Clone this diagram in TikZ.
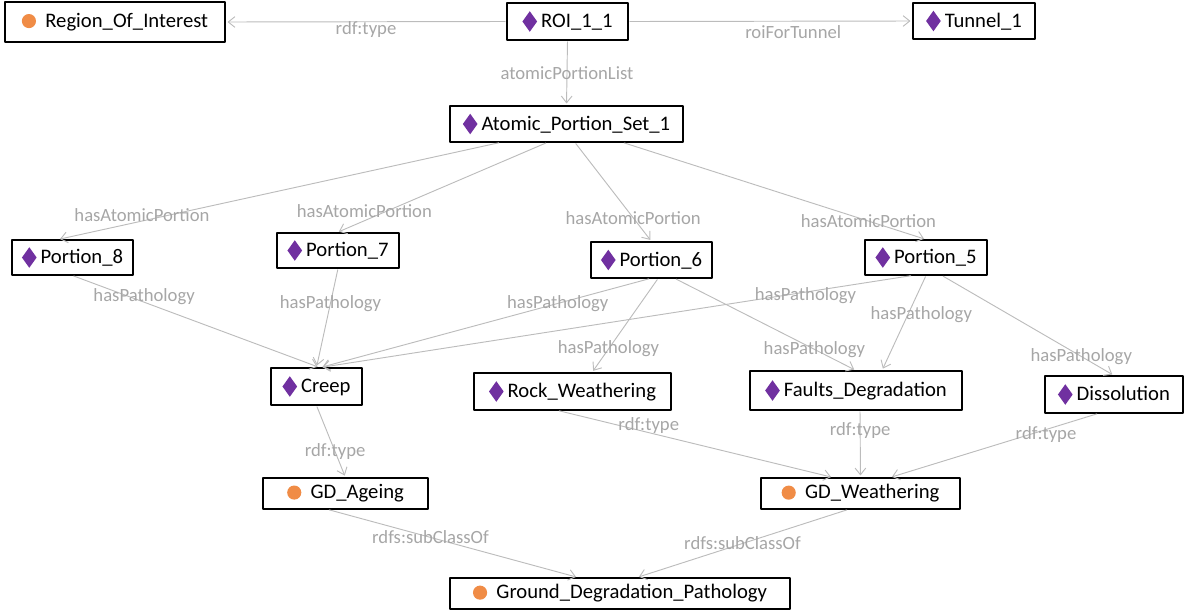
\documentclass[tikz,border=0pt]{standalone}
\usepackage{fontspec}
\setmainfont{Carlito}
\usetikzlibrary{arrows.meta,calc}
\definecolor{indivcol}{RGB}{112,48,160}
\definecolor{clscol}{RGB}{240,140,70}
\definecolor{edgecol}{RGB}{188,188,188}
\definecolor{lblcol}{RGB}{166,166,166}
\newcommand{\indiv}{\tikz[baseline=0pt]\fill[indivcol] (0,-3pt)--(5.5pt,4.7pt)--(0,12.4pt)--(-5.5pt,4.7pt)--cycle;\hspace{3pt}}
\newcommand{\cls}{\tikz[baseline=0pt]\fill[clscol] (0,4.7pt) circle (5.3pt);\hspace{7pt}}
\begin{document}
\begin{tikzpicture}[x=0.75pt,y=-0.75pt, line join=round, line cap=round,
	obj/.style 2 args={draw, line width=0.8pt, fill=white, minimum width=#1*0.75pt, minimum height=#2*0.75pt, inner sep=0pt, font=\fontsize{15.5}{18}\selectfont},
	rel/.style={draw=edgecol, line width=0.7pt, -{Straight Barb[length=5pt,width=8pt]}, shorten >=1.5pt, shorten <=1pt},
	lbl/.style={text=lblcol, inner sep=0pt, font=\fontsize{14}{16}\selectfont}]
	\useasboundingbox (0,0) rectangle (1185,615);
	% instances and classes
	\node[obj={220}{40}] (region) at (115,22) {\cls Region\_Of\_Interest};
	\node[obj={121}{37}] (roi) at (567.5,21.5) {\indiv ROI\_1\_1};
	\node[obj={122}{36}] (tunnel) at (974,21) {\indiv Tunnel\_1};
	\node[obj={233}{36}] (aps) at (566.5,124) {\indiv Atomic\_Portion\_Set\_1};
	\node[obj={121}{35}] (p8) at (72.5,257.5) {\indiv Portion\_8};
	\node[obj={122}{35}] (p7) at (338,250.5) {\indiv Portion\_7};
	\node[obj={121}{36}] (p6) at (651.5,260) {\indiv Portion\_6};
	\node[obj={122}{35}] (p5) at (926,257.5) {\indiv Portion\_5};
	\node[obj={91}{37}] (creep) at (316.5,386.5) {\indiv Creep};
	\node[obj={197}{37}] (rock) at (572.5,391.5) {\indiv Rock\_Weathering};
	\node[obj={212}{39}] (faults) at (856,390.5) {\indiv Faults\_Degradation};
	\node[obj={138}{37}] (diss) at (1114,394.5) {\indiv Dissolution};
	\node[obj={165}{31}] (ageing) at (345.5,493.5) {\cls GD\_Ageing};
	\node[obj={199}{31}] (weath) at (860.5,493.5) {\cls GD\_Weathering};
	\node[obj={340}{31}] (gdp) at (620,593.5) {\cls Ground\_Degradation\_Pathology};
	% relations
	\draw[rel] (roi.west) -- (region.east) node[lbl, pos=.5, yshift=-6pt] {rdf:type};
	\draw[rel] (roi.east) -- (tunnel.west) node[lbl, pos=.58, yshift=-8.5pt] {roiForTunnel};
	\draw[rel] (roi.south) -- (aps.north) node[lbl, pos=.5] {atomicPortionList};
	\draw[rel] ($(aps.south)+(-66.5,0)$) -- ($(p8.north)+(-14.5,0)$) node[lbl, pos=.81, yshift=4.5pt] {hasAtomicPortion};
	\draw[rel] ($(aps.south)+(-19.5,0)$) -- ($(p7.north)+(-1,0)$) node[lbl, pos=.87, yshift=7pt] {hasAtomicPortion};
	\draw[rel] ($(aps.south)+(8.5,0)$) -- (p6.north) node[lbl, pos=.76] {hasAtomicPortion};
	\draw[rel] ($(aps.south)+(56.5,0)$) -- (p5.north) node[lbl, pos=.81] {hasAtomicPortion};
	\draw[rel] (p8.south) -- ($(creep.north)+(3,0)$) node[lbl, pos=.29, yshift=4pt] {hasPathology};
	\draw[rel] (p7.south) -- (creep.north) node[lbl, pos=.35] {hasPathology};
	\draw[rel] ($(p6.south)+(-1.5,0)$) -- ($(creep.north)+(4,0)$) node[lbl, pos=.28] {hasPathology};
	\draw[rel] ($(p5.south)+(-14,0)$) -- ($(creep.north)+(4,0)$) node[lbl, pos=.18, yshift=-3pt] {hasPathology};
	\draw[rel] ($(p6.south)+(6.5,0)$) -- ($(rock.north)+(19.5,0)$) node[lbl, pos=.75] {hasPathology};
	\draw[rel] ($(p6.south)+(23.5,0)$) -- (faults.north) node[lbl, pos=.77] {hasPathology};
	\draw[rel] (p5.south) -- ($(faults.north)+(26,0)$) node[lbl, pos=.41, xshift=10pt] {hasPathology};
	\draw[rel] ($(p5.south)+(16,0)$) -- (diss.north) node[lbl, pos=.81] {hasPathology};
	\draw[rel] (creep.south) -- (ageing.north) node[lbl, pos=.64] {rdf:type};
	\draw[rel] ($(rock.south)+(-14.5,0)$) -- ($(weath.north)+(-27.5,0)$) node[lbl, pos=.33, yshift=5pt] {rdf:type};
	\draw[rel] ($(faults.south)+(4,0)$) -- (weath.north) node[lbl, pos=.3] {rdf:type};
	\draw[rel] ($(diss.south)+(-16,0)$) -- ($(weath.north)+(29.5,0)$) node[lbl, pos=.25, yshift=-4pt] {rdf:type};
	\draw[rel] ($(ageing.south)+(-17.5,0)$) -- ($(gdp.north)+(-42,0)$) node[lbl, pos=.41] {rdfs:subClassOf};
	\draw[rel] ($(weath.south)+(-12.5,0)$) -- ($(gdp.north)+(17,0)$) node[lbl, pos=.5] {rdfs:subClassOf};
\end{tikzpicture}
\end{document}
